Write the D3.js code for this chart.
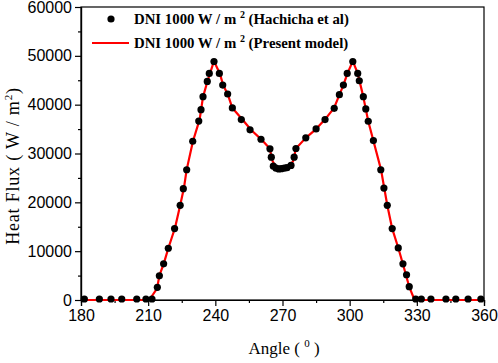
<!DOCTYPE html>
<html><head><meta charset="utf-8">
<script src="https://cdn.jsdelivr.net/npm/d3@7"></script>
<style>body{margin:0;background:#fff}svg{display:block}</style>
</head><body>
<svg id="c" width="498" height="363"></svg>
<script>
const refAngle = [181.5,188.2,193.4,198.2,204.9,209,211.7,214.1,215.0,216.9,219.0,221.8,224.3,225.7,227.2,229.9,232.6,233.6,234.5,236.4,237.3,239.4,241.8,243.3,245.5,247.6,251.6,255.5,260.4,264.4,265.0,265.9,267.1,268.3,269.5,270.8,272.0,273.8,275.2,276.0,280.4,285.0,289.0,293.1,295.4,297.2,298.9,301.4,303.6,304.3,306.1,307.2,308.3,310.6,313.9,315.3,316.8,319.0,321.7,323.8,325.4,326.6,329.5,332,336.3,343,347.4,352.9,358.6];
const refFlux = [200,200,200,200,200,200,200,2600,4960,7400,10600,14630,19390,22800,26670,32510,36650,38980,41630,44750,46390,48840,46390,44020,42180,39330,36940,34840,32920,30960,29250,27400,27000,26850,26900,27000,27100,27550,29250,31020,33200,35040,36940,39250,42040,44020,46390,48840,46390,44900,41630,39120,36600,32650,26670,22920,19390,14630,10670,7410,5170,2720,200,200,200,200,200,200,200];
const modelAngle = [180,210.5,214,215,217,219,222,224.3,226,227.2,230,233,234.5,236.5,239.4,242,243.5,245.5,247.6,252,256,260.5,264.3,265.5,267,269,271,273,274.8,276,280.4,285,289,293,295.4,297.2,299,301.4,303.6,306,308.3,310.6,314,316.8,319,321.7,324,326.6,329,360];
const modelFlux = [0,0,2400,5000,7500,10600,14800,19400,23000,26700,32500,37000,41600,44800,48900,46400,44000,42200,39300,37000,34800,32900,31000,28500,27200,26900,27000,27300,28500,31000,33200,35000,37000,39300,42000,44000,46400,48900,46400,41800,36600,32600,26700,19400,14600,10700,7000,2700,0,0];
const xTicks = [180,210,240,270,300,330,360];
const yTicks = [0,10000,20000,30000,40000,50000,60000];
const legendLabels = ["DNI 1000 W / m", "DNI 1000 W / m"];
const legendSuffix = [" (Hachicha et al)", " (Present model)"];

const svg = d3.select("#c");
const m = {l:81, r:14, t:7, b:63};
const W = 498, H = 363;
const x = d3.scaleLinear().domain([180,360]).range([m.l, W-m.r]);
const y = d3.scaleLinear().domain([0,60000]).range([H-m.b, m.t]);
const sans = "'Liberation Sans', Arial, sans-serif";
const serif = "'Liberation Serif', 'DejaVu Serif', serif";

// frame
svg.append("rect").attr("x", m.l).attr("y", m.t).attr("width", W-m.l-m.r).attr("height", H-m.t-m.b)
  .attr("fill","none").attr("stroke","#000").attr("stroke-width",1.2);

// x axis
const xMinor = d3.range(195,360,30);
const gx = svg.append("g").attr("transform",`translate(0,${H-m.b})`);
gx.call(d3.axisBottom(x).tickValues(xTicks).tickSize(6).tickPadding(4).tickFormat(d3.format("d")));
const gxm = svg.append("g").attr("transform",`translate(0,${H-m.b})`);
gxm.call(d3.axisBottom(x).tickValues(xMinor).tickSize(3).tickFormat(""));
// y axis
const yMinor = d3.range(5000,60000,10000);
const gy = svg.append("g").attr("transform",`translate(${m.l},0)`);
gy.call(d3.axisLeft(y).tickValues(yTicks).tickSize(6).tickPadding(3).tickFormat(d3.format("d")));
const gym = svg.append("g").attr("transform",`translate(${m.l},0)`);
gym.call(d3.axisLeft(y).tickValues(yMinor).tickSize(3).tickFormat(""));
[gx,gxm,gy,gym].forEach(g=>{
  g.select(".domain").attr("stroke","#000").attr("stroke-width",1.2);
  g.selectAll(".tick line").attr("stroke","#000").attr("stroke-width",1.2);
  g.selectAll(".tick text").attr("font-family",sans).attr("font-size",16).attr("fill","#000");
});

// line
const line = d3.line().x((d,i)=>x(modelAngle[i])).y((d,i)=>y(modelFlux[i]));
svg.append("path").datum(modelAngle).attr("d",line).attr("fill","none")
  .attr("stroke","#ff0000").attr("stroke-width",2.2).attr("stroke-linejoin","round");

// points
svg.append("g").selectAll("circle").data(refAngle).join("circle")
  .attr("cx",(d)=>x(d)).attr("cy",(d,i)=>y(refFlux[i])).attr("r",3.6).attr("fill","#000");

// legend
svg.append("circle").attr("cx",111).attr("cy",19).attr("r",3.6).attr("fill","#000");
svg.append("line").attr("x1",92).attr("x2",129).attr("y1",43).attr("y2",43).attr("stroke","#ff0000").attr("stroke-width",2.2);
[24,48].forEach((by,i)=>{
  const t = svg.append("text").attr("x",134).attr("y",by).attr("font-family",serif)
    .attr("font-weight","bold").attr("font-size",14.8).attr("fill","#000");
  t.append("tspan").text(legendLabels[i]+" ");
  t.append("tspan").attr("dy",-6).attr("font-size",10).text("2");
  t.append("tspan").attr("dy",6).text(legendSuffix[i]);
});

// axis titles
const xt = svg.append("text").attr("x",284).attr("y",354).attr("text-anchor","middle")
  .attr("font-family",serif).attr("font-size",17).attr("fill","#000");
xt.append("tspan").text("Angle ( ");
xt.append("tspan").attr("dy",-7).attr("font-size",11).text("0");
xt.append("tspan").attr("dy",7).text(" )");

const yt = svg.append("text").attr("transform","translate(19,166) rotate(-90)").attr("text-anchor","middle")
  .attr("font-family",serif).attr("font-size",18).attr("letter-spacing",0.8).attr("fill","#000");
yt.append("tspan").text("Heat Flux  ( W / m");
yt.append("tspan").attr("dy",-7).attr("font-size",11).text("2");
yt.append("tspan").attr("dy",7).text(")");
</script>
</body></html>
